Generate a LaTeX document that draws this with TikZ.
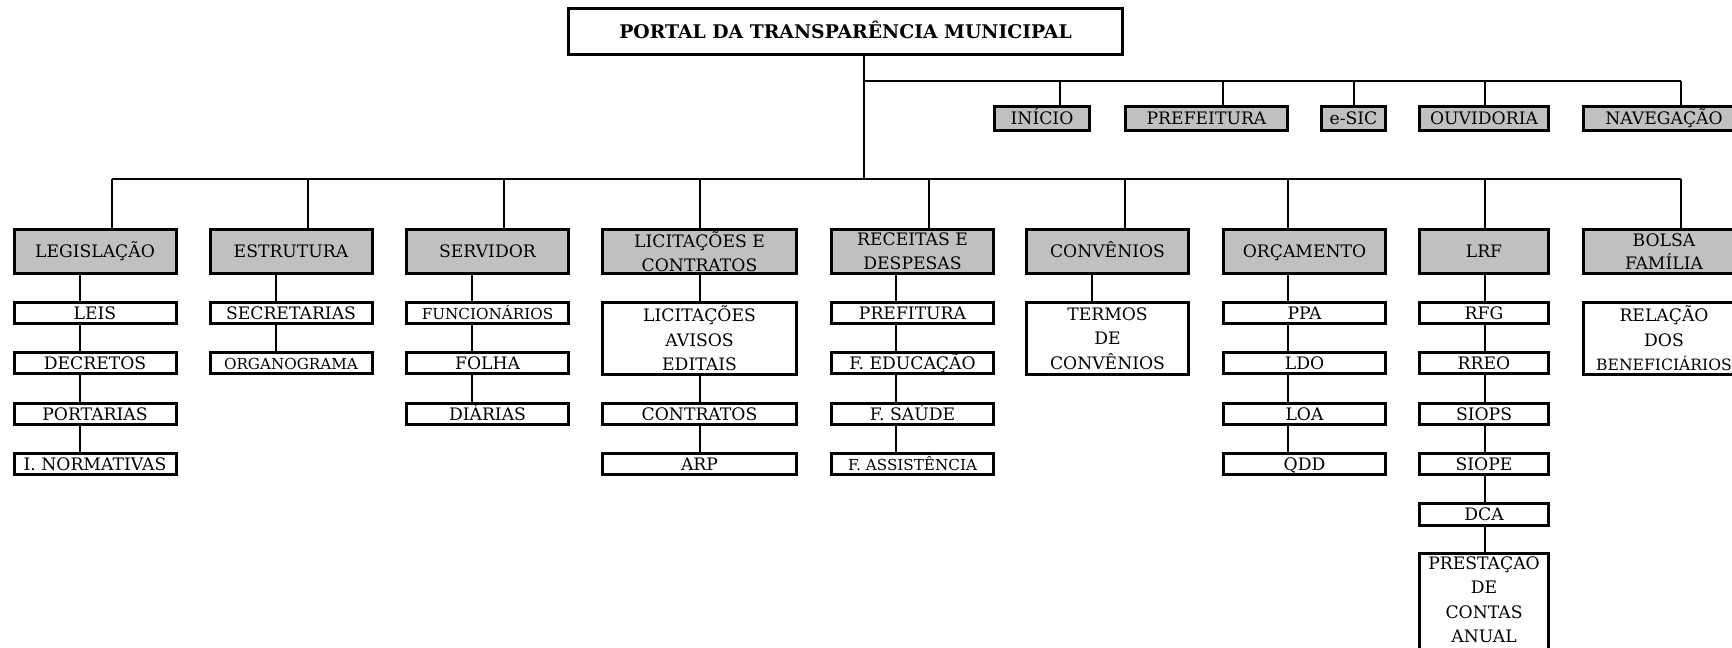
\documentclass[tikz,border=0pt]{standalone}
\usepackage{fontspec}
\setmainfont{DejaVu Serif}
\definecolor{cellgray}{RGB}{192,192,192}
\tikzset{
  box/.style={draw=black,line width=1.5pt,inner sep=0pt,align=center,
    font=\fontsize{8.6}{12.25}\selectfont},
  oneline/.style={text height=6.4pt,text depth=0.1pt},
  catbox/.style={box,oneline,fill=cellgray,minimum width=81pt,minimum height=22pt},
  catboxtwo/.style={box,fill=cellgray,minimum width=81pt,minimum height=22pt,
    font=\fontsize{8.6}{11.8}\selectfont},
  navbox/.style={box,oneline,fill=cellgray,minimum height=12pt},
  subbox/.style={box,oneline,fill=white,minimum width=81pt,minimum height=10.75pt},
  tallbox/.style={box,fill=white,minimum width=81pt,minimum height=36pt},
  smalltext/.style={font=\fontsize{7.6}{12.25}\selectfont},
  conn/.style={draw=black,line width=0.9pt},
}
\begin{document}
\begin{tikzpicture}[x=0.5pt,y=-0.5pt]
  \useasboundingbox (0,0) rectangle (1732,647);
  \fill[white] (0,0) rectangle (1732,647);
  \clip (0,0) rectangle (1732,647);

  % top
  \node[box,font=\fontsize{9.4}{11}\selectfont\bfseries,text height=7pt,text depth=0.15pt,
    minimum width=277pt,minimum height=23pt] (portal) at (845.5,31.5) {PORTAL DA TRANSPARÊNCIA MUNICIPAL};
  \coordinate (navbus) at (864,81);
  \coordinate (navend) at (1681,81);
  \coordinate (catbus) at (864,179);
  \coordinate (catleft) at (112,179);
  \coordinate (catright) at (1681,179);

  % menu
  \node[navbox,minimum width=47.5pt] (inicio) at (1042,118.5) {INÍCIO};
  \node[navbox,minimum width=81pt] (prefeitura) at (1206.5,118.5) {PREFEITURA};
  \node[navbox,minimum width=32pt] (esic) at (1353.5,118.5) {e-SIC};
  \node[navbox,minimum width=64.5pt] (ouvidoria) at (1484,118.5) {OUVIDORIA};
  \node[navbox,minimum width=81pt] (navegacao) at (1664,118.5) {NAVEGAÇÃO};

  % categories
  \node[catbox] (legislacao) at (95,251.5) {LEGISLAÇÃO};
  \node[catbox] (estrutura) at (291,251.5) {ESTRUTURA};
  \node[catbox] (servidor) at (487.5,251.5) {SERVIDOR};
  \node[catboxtwo,minimum width=97pt] (licitacoes) at (699.5,251.5) {LICITAÇÕES E\\CONTRATOS};
  \node[catboxtwo] (receitas) at (912.5,251.5) {RECEITAS E\\DESPESAS};
  \node[catbox] (convenios) at (1107.5,251.5) {CONVÊNIOS};
  \node[catbox] (orcamento) at (1304.5,251.5) {ORÇAMENTO};
  \node[catbox,minimum width=64.5pt] (lrf) at (1484,251.5) {LRF};
  \node[catboxtwo] (bolsa) at (1664,251.5) {BOLSA\\FAMÍLIA};

  % items
  \node[subbox] (leis) at (95,313) {LEIS};
  \node[subbox] (decretos) at (95,363) {DECRETOS};
  \node[subbox] (portarias) at (95,414) {PORTARIAS};
  \node[subbox] (normativas) at (95,464) {I. NORMATIVAS};
  \node[subbox] (secretarias) at (291,313) {SECRETARIAS};
  \node[subbox,smalltext] (organograma) at (291,363) {ORGANOGRAMA};
  \node[subbox,smalltext] (funcionarios) at (487.5,313) {FUNCIONÁRIOS};
  \node[subbox] (folha) at (487.5,363) {FOLHA};
  \node[subbox] (diarias) at (487.5,414) {DIÁRIAS};
  \node[tallbox,minimum width=97pt] (avisos) at (699.5,338.5) {LICITAÇÕES\\AVISOS\\EDITAIS};
  \node[subbox,minimum width=97pt] (contratos) at (699.5,414) {CONTRATOS};
  \node[subbox,minimum width=97pt] (arp) at (699.5,464) {ARP};
  \node[subbox] (prefitura) at (912.5,313) {PREFITURA};
  \node[subbox] (educacao) at (912.5,363) {F. EDUCAÇÃO};
  \node[subbox] (saude) at (912.5,414) {F. SAÚDE};
  \node[subbox,smalltext] (assistencia) at (912.5,464) {F. ASSISTÊNCIA};
  \node[tallbox] (termos) at (1107.5,338.5) {TERMOS\\DE\\CONVÊNIOS};
  \node[subbox] (ppa) at (1304.5,313) {PPA};
  \node[subbox] (ldo) at (1304.5,363) {LDO};
  \node[subbox] (loa) at (1304.5,414) {LOA};
  \node[subbox] (qdd) at (1304.5,464) {QDD};
  \node[subbox,minimum width=64.5pt] (rfg) at (1484,313) {RFG};
  \node[subbox,minimum width=64.5pt] (rreo) at (1484,363) {RREO};
  \node[subbox,minimum width=64.5pt] (siops) at (1484,414) {SIOPS};
  \node[subbox,minimum width=64.5pt] (siope) at (1484,464) {SIOPE};
  \node[subbox,minimum width=64.5pt] (dca) at (1484,514.5) {DCA};
  \node[tallbox,minimum width=64.5pt,minimum height=48.5pt,text depth=4pt] (prestacao) at (1484,602) {PRESTAÇÃO\\DE\\CONTAS\\ANUAL};
  \node[tallbox] (relacao) at (1664,338.5) {RELAÇÃO\\DOS\\{\fontsize{7.8}{12.25}\selectfont BENEFICIÁRIOS}};

  % lines
  \draw[conn] (portal.south -| catbus) -- (catbus);
  \draw[conn] (navbus) -- (navend);
  \draw[conn] (catleft) -- (catright);
  \foreach \n/\x in {inicio/1060, prefeitura/1223, esic/1354, ouvidoria/1485, navegacao/1681}
    \draw[conn] (\x,0 |- navbus) -- (\x,0 |- \n.north);
  \foreach \n/\x in {legislacao/112, estrutura/308, servidor/504, licitacoes/700, receitas/929,
      convenios/1125, orcamento/1288, lrf/1485, bolsa/1681}
    \draw[conn] (\x,0 |- catbus) -- (\x,0 |- \n.north);
  \foreach \a/\b/\x in {legislacao/leis/80, leis/decretos/80, decretos/portarias/80, portarias/normativas/80,
      estrutura/secretarias/276, secretarias/organograma/276,
      servidor/funcionarios/472, funcionarios/folha/472, folha/diarias/472,
      licitacoes/avisos/700, avisos/contratos/700, contratos/arp/700,
      receitas/prefitura/896, prefitura/educacao/896, educacao/saude/896, saude/assistencia/896,
      convenios/termos/1092,
      orcamento/ppa/1288, ppa/ldo/1288, ldo/loa/1288, loa/qdd/1288,
      lrf/rfg/1485, rfg/rreo/1485, rreo/siops/1485, siops/siope/1485, siope/dca/1485, dca/prestacao/1485}
    \draw[conn] (\x,0 |- \a.south) -- (\x,0 |- \b.north);
\end{tikzpicture}
\end{document}
